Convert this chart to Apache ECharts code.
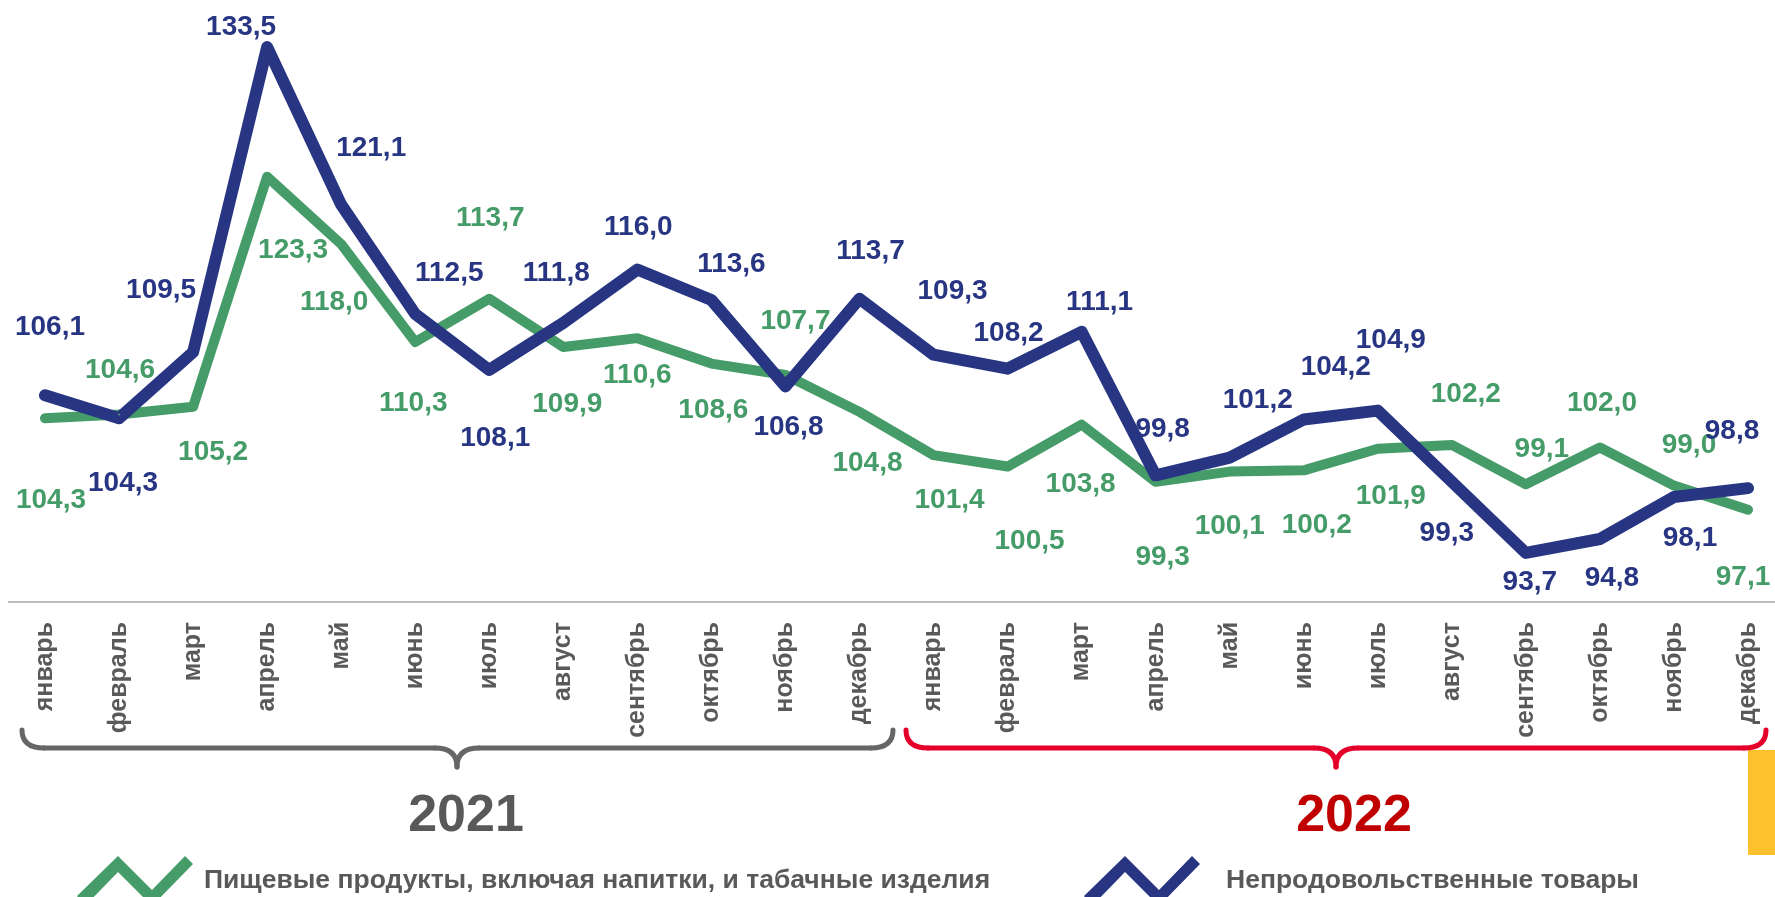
<!DOCTYPE html>
<html>
<head>
<meta charset="utf-8">
<title>Индексы цен</title>
<script src="https://cdn.jsdelivr.net/npm/echarts@6/dist/echarts.min.js"></script>
<style>
  html, body { margin: 0; padding: 0; background: #fff; }
  #chart { width: 1775px; height: 897px; }
</style>
</head>
<body>
<div id="chart"></div>
<script>
// месяцы по оси X (2021 + 2022)
var months = ['январь','февраль','март','апрель','май','июнь','июль','август','сентябрь','октябрь','ноябрь','декабрь',
              'январь','февраль','март','апрель','май','июнь','июль','август','сентябрь','октябрь','ноябрь','декабрь'];

// Пищевые продукты, включая напитки, и табачные изделия
var foodValues = [104.3, 104.6, 105.2, 123.3, 118.0, 110.3, 113.7, 109.9, 110.6, 108.6, 107.7, 104.8,
                  101.4, 100.5, 103.8, 99.3, 100.1, 100.2, 101.9, 102.2, 99.1, 102.0, 99.0, 97.1];

// Непродовольственные товары
var nonFoodValues = [106.1, 104.3, 109.5, 133.5, 121.1, 112.5, 108.1, 111.8, 116.0, 113.6, 106.8, 113.7,
                     109.3, 108.2, 111.1, 99.8, 101.2, 104.2, 104.9, 99.3, 93.7, 94.8, 98.1, 98.8];

var yearLabels = ['2021', '2022'];
var seriesNames = ['Пищевые продукты, включая напитки, и табачные изделия', 'Непродовольственные товары'];

// сдвиг подписей значений относительно точки (как на слайде)
var foodLabelShift = [[6,82],[1,-44],[20,45],[26,74],[-7,58],[-2,61],[1,-80],[4,57],[0,37],[2,47],[10,-54],[8,51],
                      [16,45],[22,75],[-1,60],[7,75],[0,55],[13,55],[13,48],[14,-51],[16,-35],[2,-44],[15,-40],[-5,68]];
var nonFoodLabelShift = [[5,-68],[4,65],[-32,-62],[-26,-20],[30,-56],[34,-41],[6,68],[-7,-50],[1,-42],[20,-36],[3,41],[11,-47],
                         [19,-63],[1,-35],[18,-30],[7,-46],[28,-57],[32,-52],[13,-70],[-5,51],[4,29],[12,39],[16,41],[-16,-57]];

var GREEN = '#459c68';
var BLUE = '#283583';
var GRAY = '#595959';
var FONT = '"Liberation Sans", Arial, sans-serif';

function fmt(v) {
  return v.toFixed(1).replace('.', ',');
}

function buildData(values, shifts) {
  var out = [];
  for (var i = 0; i < values.length; i++) {
    out.push({ value: values[i], label: { offset: shifts[i] } });
  }
  return out;
}

// иконка легенды - ломаная
var zigzag = 'path://M0,40 L41,0 L75,34 L108,0 L116,8 L75,50 L41,16 L8,50 Z';

// фигурная скобка под осью (из кривых и отрезков)
function brace(x0, x1, tip, color) {
  var st = { stroke: color, lineWidth: 5, fill: null, lineCap: 'round' };
  var top = 730, mid = 748, low = 767, r = 22;
  return [
    { type: 'bezierCurve', shape: { x1: x0, y1: top, cpx1: x0, cpy1: mid, x2: x0 + r, y2: mid }, style: st },
    { type: 'line', shape: { x1: x0 + r, y1: mid, x2: tip - r, y2: mid }, style: st },
    { type: 'bezierCurve', shape: { x1: tip - r, y1: mid, cpx1: tip, cpy1: mid, x2: tip, y2: low }, style: st },
    { type: 'bezierCurve', shape: { x1: tip, y1: low, cpx1: tip, cpy1: mid, x2: tip + r, y2: mid }, style: st },
    { type: 'line', shape: { x1: tip + r, y1: mid, x2: x1 - r, y2: mid }, style: st },
    { type: 'bezierCurve', shape: { x1: x1 - r, y1: mid, cpx1: x1, cpy1: mid, x2: x1, y2: top }, style: st }
  ];
}

var myChart = echarts.init(document.getElementById('chart'));

var graphics = [
  // линия оси
  { type: 'line', shape: { x1: 8, y1: 602, x2: 1775, y2: 602 }, style: { stroke: '#bfbfbf', lineWidth: 2 } },
  {
    type: 'text', x: 466, y: 817,
    style: { text: yearLabels[0], fill: GRAY, font: 'bold 52px ' + FONT, textAlign: 'center', textVerticalAlign: 'middle' }
  },
  {
    type: 'text', x: 1354, y: 817,
    style: { text: yearLabels[1], fill: '#c00000', font: 'bold 52px ' + FONT, textAlign: 'center', textVerticalAlign: 'middle' }
  },
  { type: 'rect', shape: { x: 1748, y: 750, width: 27, height: 105 }, style: { fill: '#fdc12d' } }
];
graphics = graphics.concat(brace(22, 893, 457, '#666666'), brace(906, 1766, 1336, '#e4002b'));

var option = {
  animation: false,
  backgroundColor: '#fff',
  textStyle: { fontFamily: FONT },
  grid: { left: 45, right: 27, top: 28, bottom: 297, containLabel: false },
  legend: [
    {
      left: 72, top: 851,
      itemWidth: 116, itemHeight: 50,
      icon: zigzag,
      data: [seriesNames[0]],
      textStyle: { color: GRAY, fontSize: 26.5, fontWeight: 'bold', fontFamily: FONT, padding: [0, 0, 0, 6] }
    },
    {
      left: 1079, top: 851,
      itemWidth: 116, itemHeight: 50,
      icon: zigzag,
      data: [seriesNames[1]],
      textStyle: { color: GRAY, fontSize: 26.5, fontWeight: 'bold', fontFamily: FONT, padding: [0, 0, 0, 21] }
    }
  ],
  xAxis: {
    type: 'category',
    boundaryGap: false,
    data: months,
    axisLine: { show: false },
    axisTick: { show: false },
    axisLabel: {
      rotate: 90,
      margin: 22,
      interval: 0,
      color: GRAY,
      fontSize: 25,
      fontWeight: 'bold',
      fontFamily: FONT
    }
  },
  yAxis: {
    type: 'value',
    min: 90,
    max: 135,
    show: false,
    splitLine: { show: false }
  },
  series: [
    {
      name: seriesNames[0],
      type: 'line',
      data: buildData(foodValues, foodLabelShift),
      symbol: 'circle',
      symbolSize: 2,
      lineStyle: { color: GREEN, width: 10, join: 'round', cap: 'round' },
      itemStyle: { color: GREEN },
      label: {
        show: true,
        position: 'inside',
        color: GREEN,
        fontSize: 28,
        fontWeight: 'bold',
        fontFamily: FONT,
        formatter: function (p) { return fmt(p.value); }
      }
    },
    {
      name: seriesNames[1],
      type: 'line',
      data: buildData(nonFoodValues, nonFoodLabelShift),
      symbol: 'circle',
      symbolSize: 2,
      lineStyle: { color: BLUE, width: 12, join: 'round', cap: 'round' },
      itemStyle: { color: BLUE },
      label: {
        show: true,
        position: 'inside',
        color: BLUE,
        fontSize: 28,
        fontWeight: 'bold',
        fontFamily: FONT,
        formatter: function (p) { return fmt(p.value); }
      }
    }
  ],
  graphic: graphics
};

myChart.setOption(option, true);
window.addEventListener('resize', function () {
  myChart.resize();
});
</script>
</body>
</html>
